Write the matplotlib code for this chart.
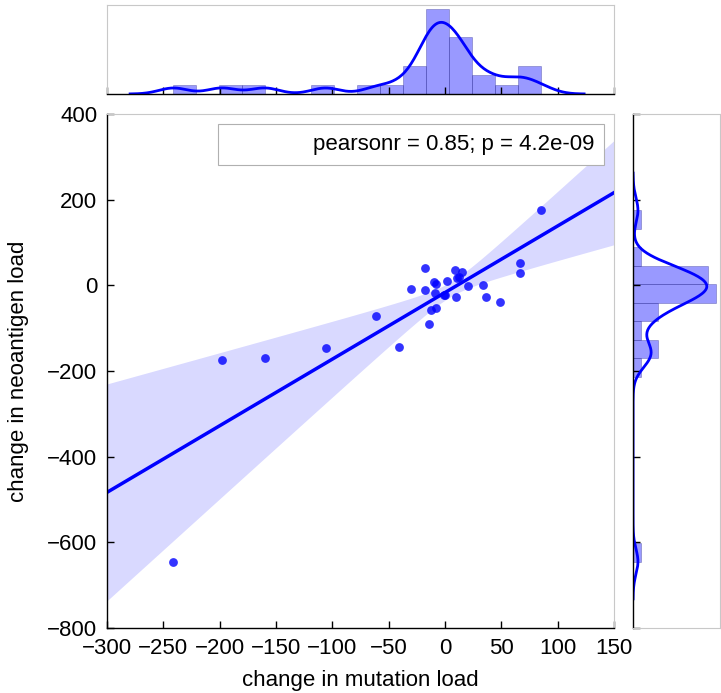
import numpy as np
import matplotlib.pyplot as plt
from matplotlib.patches import Rectangle

# one entry per sample
mutation_change = [85, 67, 67, -18, 9, 15, 11, -10, -8, 2,
                   -30, -18, -9, 0, 10, 20, 34, 36, 49, -8,
                   -12, -14, -41, -61, -106, -160, -198, -241, 12, -1]
neoantigen_change = [175, 53, 28, 41, 36, 30, 18, 7, 3, 10,
                     -9, -11, -19, -23, -27, -2, 1, -28, -38, -54,
                     -58, -90, -145, -72, -146, -170, -174, -645, 20, -22]

x_ticks = [-300, -250, -200, -150, -100, -50, 0, 50, 100, 150]
y_ticks = [-800, -600, -400, -200, 0, 200, 400]
stat_label = "pearsonr = 0.85; p = 4.2e-09"
x_bins = 16
y_bins = 19

plt.rcParams["font.family"] = ["Liberation Sans", "DejaVu Sans"]
plt.rcParams["font.size"] = 16

BLUE = "#0000ff"
GRAY = "#c8c8c8"


def kde_bw(v):
    """statsmodels-style scott bandwidth."""
    v = np.asarray(v, float)
    iqr = np.subtract(*np.percentile(v, [75, 25]))
    a = min(v.std(ddof=1), iqr / 1.349)
    return 1.059 * a * len(v) ** (-0.2)


def kde(v, grid):
    v = np.asarray(v, float)
    bw = kde_bw(v)
    z = (grid[:, None] - v[None, :]) / bw
    return np.exp(-0.5 * z ** 2).sum(axis=1) / (len(v) * bw * np.sqrt(2 * np.pi))


def reg_band(x, y, grid, z=1.96):
    """OLS fit with a robust (HC0) 95% band."""
    x = np.asarray(x, float)
    y = np.asarray(y, float)
    X = np.column_stack([np.ones_like(x), x])
    bread = np.linalg.inv(X.T @ X)
    beta = bread @ X.T @ y
    resid = y - X @ beta
    meat = X.T @ (X * (resid ** 2)[:, None])
    cov = bread @ meat @ bread
    G = np.column_stack([np.ones_like(grid), grid])
    fit = G @ beta
    se = np.sqrt(np.einsum("ij,jk,ik->i", G, cov, G))
    return fit, fit - z * se, fit + z * se


def style_spines(ax, dark):
    for side, sp in ax.spines.items():
        sp.set_color("black" if side in dark else GRAY)
        sp.set_linewidth(1.0 if side in dark else 0.8)


fig = plt.figure(figsize=(7.21, 6.93), dpi=100)
ax = fig.add_axes([0.1484, 0.0938, 0.7032, 0.7417])
ax_top = fig.add_axes([0.1484, 0.8644, 0.7032, 0.1284], sharex=ax)
ax_right = fig.add_axes([0.878, 0.0938, 0.1206, 0.7417], sharey=ax)

# main joint plot
grid = np.linspace(x_ticks[0], x_ticks[-1], 200)
fit, lo, hi = reg_band(mutation_change, neoantigen_change, grid)
ax.fill_between(grid, lo, hi, color=BLUE, alpha=0.15, linewidth=0)
ax.plot(grid, fit, color=BLUE, lw=2.5)
ax.scatter(mutation_change, neoantigen_change, s=40, color=BLUE, alpha=0.8,
           linewidths=0, zorder=3)

ax.set_xlim(x_ticks[0], x_ticks[-1])
ax.set_ylim(y_ticks[0], y_ticks[-1])
ax.set_xticks(x_ticks)
ax.set_yticks(y_ticks)
ax.tick_params(direction="in", length=5, width=1, pad=7)
ax.set_xlabel("change in mutation load", labelpad=8)
ax.set_ylabel("change in neoantigen load", labelpad=13)
style_spines(ax, ("left", "bottom"))

blank = Rectangle((0, 0), 1, 1, fc="none", ec="none", lw=0)
leg = ax.legend([blank], [stat_label], loc="upper right", fancybox=False,
                handlelength=3.0, handletextpad=0.8, borderpad=0.45,
                borderaxespad=0.45, framealpha=1)
leg.get_frame().set_edgecolor("#b0b0b0")
leg.get_frame().set_linewidth(0.8)

# marginal distributions
ax_top.hist(mutation_change, bins=x_bins, density=True, color=BLUE, alpha=0.4,
            edgecolor="#303090", linewidth=0.6)
xg = np.linspace(min(mutation_change) - 3 * kde_bw(mutation_change),
                 max(mutation_change) + 3 * kde_bw(mutation_change), 300)
ax_top.plot(xg, kde(mutation_change, xg), color=BLUE, lw=2)
ax_top.set_ylim(bottom=0)
ax_top.tick_params(axis="x", direction="in", length=5, width=1, labelbottom=False)
ax_top.tick_params(axis="y", left=False, labelleft=False)
style_spines(ax_top, ("bottom",))

ax_right.hist(neoantigen_change, bins=y_bins, density=True, orientation="horizontal",
              color=BLUE, alpha=0.4, edgecolor="#303090", linewidth=0.6)
yg = np.linspace(min(neoantigen_change) - 3 * kde_bw(neoantigen_change),
                 max(neoantigen_change) + 3 * kde_bw(neoantigen_change), 400)
ax_right.plot(kde(neoantigen_change, yg), yg, color=BLUE, lw=2)
ax_right.set_xlim(left=0)
ax_right.tick_params(axis="y", direction="in", length=5, width=1, labelleft=False)
ax_right.tick_params(axis="x", bottom=False, labelbottom=False)
style_spines(ax_right, ("left",))

ax.set_xlim(x_ticks[0], x_ticks[-1])
ax.set_ylim(y_ticks[0], y_ticks[-1])

fig.savefig("out.png", dpi=100)
